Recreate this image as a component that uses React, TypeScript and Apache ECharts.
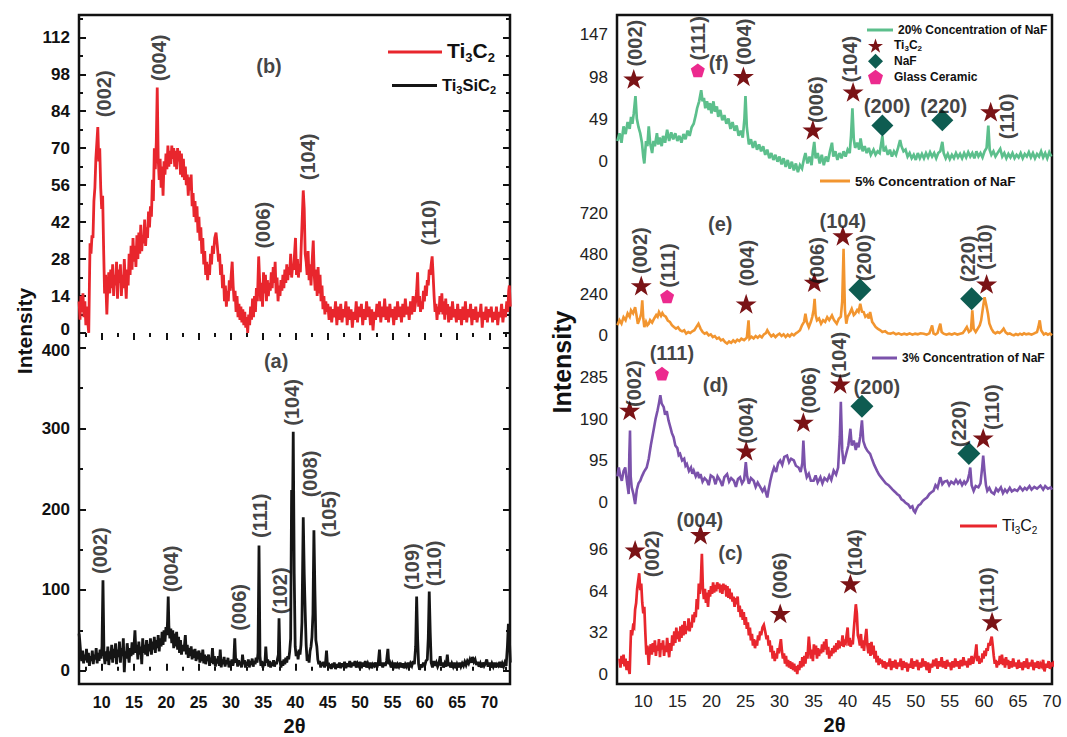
import React, { useEffect, useRef } from 'react';
import * as echarts from 'echarts';

const FONT = '"Liberation Sans", Arial, Helvetica, sans-serif';
const RED = '#e8262d';
const BLACK = '#151515';
const GREEN = '#5cbf8c';
const ORANGE = '#f2952f';
const PURPLE = '#7b52ab';
const STAR_C = '#7a1316';
const DIAM_C = '#0e5c51';
const PENT_C = '#ec2a8e';
const STAR = 'path://M50,2 L61.8,36.2 L97.6,36.2 L68.6,57.6 L79.4,92 L50,71 L20.6,92 L31.4,57.6 L2.4,36.2 L38.2,36.2 Z';
const PENT = 'path://M50,4 L96,38 L78,94 L22,94 L4,38 Z';

// ---------- tick values ----------
const leftXLabels = [10, 15, 20, 25, 30, 35, 40, 45, 50, 55, 60, 65, 70];
const leftXMinor = [7.5, 12.5, 17.5, 22.5, 27.5, 32.5, 37.5, 42.5, 47.5, 52.5, 57.5, 62.5, 67.5, 72.5];
const bYLabels = [0, 14, 28, 42, 56, 70, 84, 98, 112];
const bYMinor = [7, 21, 35, 49, 63, 77, 91, 105, 119];
const aYLabels = [0, 100, 200, 300, 400];
const aYMinor = [50, 150, 250, 350];
const rightXLabels = [10, 15, 20, 25, 30, 35, 40, 45, 50, 55, 60, 65, 70];
const fYLabels = [0, 49, 98, 147];
const eYLabels = [0, 240, 480, 720];
const dYLabels = [0, 95, 190, 285];
const cYLabels = [0, 32, 64, 96];

// ---------- series data ----------
const ti3c2 = [
[6.5,12],[6.65,5],[6.8,14],[6.95,8],[7.1,15],[7.25,6],[7.4,12],[7.55,3],[7.7,10],[7.85,4],[8.0,0],[8.1,18],[8.2,34],[8.35,30],[8.5,37],[8.65,36],[8.8,50],[8.95,55],[9.1,66],[9.25,72],[9.4,78],[9.55,65],[9.7,70],[9.85,55],[10.0,47],[10.15,52],[10.3,32],[10.45,15],[10.6,22],[10.8,7],[10.95,18],[11.1,23],[11.25,15],[11.4,24],[11.55,17],[11.7,26],[11.85,14],[12.0,22],[12.15,18],[12.3,27],[12.45,13],[12.6,24],[12.75,19],[12.9,26],[13.05,14],[13.2,22],[13.35,17],[13.5,28],[13.65,20],[13.8,13],[13.95,24],[14.1,18],[14.25,30],[14.4,22],[14.55,33],[14.7,24],[14.85,36],[15.0,27],[15.15,33],[15.3,25],[15.45,37],[15.6,28],[15.75,38],[15.9,30],[16.05,41],[16.2,31],[16.35,37],[16.5,34],[16.65,43],[16.8,33],[16.95,40],[17.1,36],[17.25,46],[17.4,40],[17.55,48],[17.7,44],[17.85,58],[18.0,50],[18.15,70],[18.3,62],[18.45,72],[18.6,93],[18.75,66],[18.9,58],[19.05,66],[19.2,55],[19.35,63],[19.5,52],[19.65,65],[19.8,60],[19.95,68],[20.1,62],[20.25,71],[20.4,63],[20.55,69],[20.7,64],[20.85,71],[21.0,66],[21.15,70],[21.3,63],[21.45,69],[21.6,62],[21.75,70],[21.9,65],[22.05,69],[22.2,60],[22.35,68],[22.5,59],[22.65,66],[22.8,58],[22.95,63],[23.1,56],[23.25,60],[23.4,52],[23.55,59],[23.7,54],[23.85,60],[24.0,48],[24.15,53],[24.3,44],[24.45,50],[24.6,42],[24.75,48],[24.9,38],[25.05,44],[25.2,35],[25.35,40],[25.5,30],[25.65,36],[25.8,26],[25.95,31],[26.1,22],[26.25,27],[26.4,20],[26.55,26],[26.7,22],[26.85,30],[27.0,26],[27.15,33],[27.3,30],[27.5,36],[27.7,38],[27.9,33],[28.1,27],[28.25,30],[28.4,22],[28.55,26],[28.7,17],[28.85,22],[29.0,12],[29.15,18],[29.3,10],[29.45,16],[29.6,12],[29.75,20],[29.9,16],[30.05,22],[30.2,27],[30.35,18],[30.5,12],[30.65,16],[30.8,8],[30.95,14],[31.1,6],[31.25,11],[31.4,5],[31.55,10],[31.7,4],[31.85,9],[32.0,3],[32.15,8],[32.3,2],[32.45,6],[32.6,0],[32.75,7],[32.9,3],[33.05,10],[33.2,5],[33.35,13],[33.5,6],[33.65,14],[33.8,8],[33.95,17],[34.1,12],[34.3,29],[34.45,20],[34.6,12],[34.75,19],[34.9,10],[35.05,23],[35.2,15],[35.35,22],[35.5,12],[35.65,20],[35.8,14],[35.95,19],[36.1,16],[36.25,23],[36.4,17],[36.55,25],[36.7,19],[36.85,27],[37.0,15],[37.15,21],[37.3,12],[37.45,18],[37.6,14],[37.75,20],[37.9,16],[38.05,22],[38.2,17],[38.35,24],[38.5,19],[38.65,26],[38.8,20],[38.95,25],[39.1,22],[39.25,30],[39.4,21],[39.55,25],[39.7,24],[39.85,30],[40.0,36],[40.15,22],[40.3,28],[40.45,21],[40.6,26],[40.75,23],[40.9,34],[41.05,44],[41.2,54],[41.35,47],[41.5,30],[41.65,27],[41.8,22],[41.95,31],[42.1,20],[42.25,26],[42.4,18],[42.55,26],[42.75,35],[42.9,22],[43.05,16],[43.2,24],[43.35,14],[43.5,25],[43.65,15],[43.8,22],[43.95,12],[44.1,18],[44.25,9],[44.4,14],[44.55,7],[44.7,12],[44.85,8],
[45.0,11],[45.2,5],[45.4,10],[45.6,4],[45.8,9],[46.0,6],[46.2,12],[46.4,3],[46.6,10],[46.8,5],[47.0,11],[47.2,4],[47.4,9],[47.6,6],[47.8,12],[48.0,3],[48.2,10],[48.4,5],[48.6,9],[48.8,2],[49.0,8],[49.2,5],[49.4,12],[49.6,4],[49.8,10],[50.0,6],[50.2,11],[50.4,3],[50.6,9],[50.8,5],[51.0,12],[51.2,6],[51.4,10],[51.6,3],[51.8,9],[52.0,1],[52.2,8],[52.4,5],[52.6,11],[52.8,6],[53.0,12],[53.2,4],[53.4,10],[53.6,6],[53.8,13],[54.0,5],[54.2,10],[54.4,4],[54.6,11],[54.8,6],[55.0,9],[55.2,3],[55.4,10],[55.6,5],[55.8,12],[56.0,6],[56.2,10],[56.4,4],[56.6,11],[56.8,6],[57.0,13],[57.2,7],[57.4,10],[57.6,5],[57.8,12],[58.0,7],[58.2,14],[58.4,8],[58.6,12],[58.75,16],[58.9,23],[59.05,10],[59.2,14],[59.35,8],[59.5,12],[59.65,9],[59.8,16],[59.95,12],[60.1,18],[60.25,14],[60.4,20],[60.55,18],[60.7,24],[60.85,22],[61.0,26],[61.15,29],[61.3,22],[61.45,14],[61.6,8],[61.75,11],[61.9,5],[62.05,10],[62.2,7],[62.35,14],[62.5,8],[62.65,15],[62.8,7],[62.95,12],[63.1,5],[63.25,13],[63.4,7],[63.55,11],[63.7,4],[63.9,10],[64.1,5],[64.3,12],[64.5,6],[64.7,9],[64.9,4],[65.1,11],[65.3,5],[65.5,9],[65.7,3],[65.9,10],[66.1,5],[66.3,12],[66.5,4],[66.7,9],[66.9,6],[67.1,11],[67.3,3],[67.5,9],[67.7,5],[67.9,10],[68.1,4],[68.3,8],[68.5,6],[68.7,11],[68.9,2],[69.1,8],[69.3,5],[69.5,10],[69.7,4],[69.9,9],[70.1,6],[70.3,10],[70.5,4],[70.7,8],[70.9,5],[71.1,10],[71.3,3],[71.5,8],[71.7,6],[71.9,11],[72.1,4],[72.3,9],[72.5,6],[72.7,12],[72.85,8],[73.0,16],[73.1,18],[73.25,10]
];

const ti3sic2 = [
[6.5,46],[6.6,38],[6.75,22],[6.9,12],[7.05,25],[7.2,9],[7.35,20],[7.5,13],[7.65,27],[7.8,10],[7.95,22],[8.1,6],[8.25,18],[8.4,12],[8.55,25],[8.7,8],[8.85,20],[9.0,14],[9.15,28],[9.3,9],[9.45,22],[9.6,12],[9.75,26],[9.9,15],[10.05,30],[10.2,112],[10.35,22],[10.5,8],[10.65,24],[10.8,12],[10.95,30],[11.1,7],[11.25,24],[11.4,14],[11.55,32],[11.7,10],[11.85,27],[12.0,16],[12.15,34],[12.3,8],[12.45,26],[12.6,17],[12.75,36],[12.9,10],[13.05,28],[13.2,18],[13.35,40],[13.5,-2],[13.65,24],[13.8,15],[13.95,34],[14.1,20],[14.25,10],[14.4,28],[14.55,18],[14.7,35],[14.85,20],[15.0,30],[15.15,50],[15.3,22],[15.45,32],[15.6,14],[15.75,36],[15.9,20],[16.05,30],[16.2,8],[16.35,40],[16.5,22],[16.65,32],[16.8,20],[16.95,38],[17.1,18],[17.25,33],[17.4,24],[17.55,40],[17.7,20],[17.85,36],[18.0,26],[18.15,42],[18.3,22],[18.45,38],[18.6,28],[18.75,44],[18.9,24],[19.05,40],[19.2,30],[19.35,48],[19.5,32],[19.65,50],[19.8,36],[19.95,54],[20.1,44],[20.2,62],[20.3,92],[20.4,56],[20.55,40],[20.7,52],[20.85,34],[21.0,50],[21.15,28],[21.3,46],[21.45,30],[21.6,48],[21.75,26],[21.9,42],[22.05,22],[22.2,38],[22.35,20],[22.5,32],[22.65,24],[22.8,30],[22.95,44],[23.1,20],[23.25,32],[23.4,16],[23.55,28],[23.7,18],[23.85,30],[24.0,14],[24.15,26],[24.3,16],[24.45,27],[24.6,12],[24.75,24],[24.9,14],[25.05,25],[25.2,10],[25.35,22],[25.5,12],[25.65,26],[25.8,9],[25.95,20],[26.1,8],[26.25,18],[26.4,12],[26.55,20],[26.7,6],[26.85,16],[27.0,10],[27.15,28],[27.3,8],[27.45,18],[27.6,5],[27.75,15],[27.9,9],[28.05,18],[28.2,6],[28.35,26],[28.5,4],[28.65,14],[28.8,8],[28.95,17],[29.1,5],[29.25,13],[29.4,8],[29.55,16],[29.7,4],[29.85,12],[30.0,7],[30.15,14],[30.3,6],[30.45,12],[30.6,40],[30.75,10],[30.9,15],[31.05,5],[31.2,13],[31.35,7],[31.5,11],[31.65,4],[31.8,20],[31.95,8],[32.1,13],[32.25,4],[32.4,11],[32.55,6],[32.7,14],[32.85,4],[33.0,12],[33.15,7],[33.3,15],[33.45,5],[33.6,12],[33.75,8],[33.9,16],[34.05,10],[34.2,22],[34.35,155],[34.5,18],[34.65,6],[34.8,12],[34.95,4],[35.1,10],[35.25,6],[35.4,30],[35.55,10],[35.7,14],[35.85,5],[36.0,12],[36.15,4],[36.3,10],[36.45,6],[36.6,13],[36.75,5],[36.9,11],[37.05,8],[37.2,14],[37.35,20],[37.45,65],[37.6,12],[37.75,4],[37.9,12],[38.05,6],[38.2,14],[38.35,8],[38.5,16],[38.65,10],[38.8,18],[38.95,14],[39.1,24],[39.25,40],[39.4,224],[39.5,150],[39.65,296],[39.8,120],[39.95,30],[40.1,18],[40.25,24],[40.4,14],[40.55,26],[40.7,20],[40.85,32],[41.0,60],[41.2,190],[41.35,120],[41.5,73],[41.65,32],[41.8,12],[41.95,20],[42.1,10],[42.25,24],[42.4,30],[42.55,42],[42.7,70],[42.85,174],[43.0,100],[43.15,38],[43.3,30],[43.45,14],[43.6,8],[43.75,12],[43.9,4],[44.05,10],[44.2,6],[44.35,11],[44.5,4],[44.65,9],[44.8,25],[44.95,6],[45.1,10],[45.25,3],[45.4,8],[45.55,2],[45.7,9],[45.85,4],[46.0,10],[46.2,2],[46.4,8],[46.6,4],[46.8,10],[47.0,3],[47.2,9],[47.4,5],[47.6,11],[47.8,3],[48.0,9],[48.2,5],[48.4,12],[48.6,4],[48.8,10],[49.0,6],[49.2,12],[49.4,4],[49.6,9],[49.8,6],[50.0,11],[50.2,3],[50.4,10],[50.6,5],[50.8,12],[51.0,4],[51.2,9],[51.4,5],[51.6,10],[51.8,3],[52.0,8],[52.2,6],[52.4,10],[52.6,4],[52.8,9],[53.0,26],[53.15,6],[53.3,10],[53.5,4],[53.7,10],[53.9,6],[54.1,12],[54.3,27],[54.45,8],[54.6,10],[54.8,4],[55.0,9],[55.2,5],[55.4,10],[55.6,3],[55.8,8],[56.0,5],[56.2,10],[56.4,4],[56.6,9],[56.8,3],[57.0,8],[57.2,5],[57.4,10],[57.6,4],[57.8,9],[58.0,6],[58.2,12],[58.4,8],[58.6,30],[58.75,92],[58.9,40],[59.05,8],[59.2,1],[59.4,8],[59.6,4],[59.8,10],[60.0,6],[60.2,12],[60.4,14],[60.55,40],[60.7,98],[60.85,48],[61.0,10],[61.2,4],[61.4,12],[61.6,6],[61.8,10],[62.0,5],[62.2,9],[62.4,18],[62.55,6],[62.7,10],[62.9,4],[63.1,9],[63.3,5],[63.5,20],[63.65,6],[63.8,10],[64.0,4],[64.2,9],[64.4,5],[64.6,10],[64.8,3],[65.0,8],[65.2,4],[65.4,10],[65.6,5],[65.8,9],[66.0,6],[66.2,11],[66.4,7],[66.6,12],[66.8,9],[67.0,14],[67.2,10],[67.4,17],[67.6,11],[67.8,14],[68.0,7],[68.2,11],[68.4,5],[68.6,9],[68.8,4],[69.0,10],[69.2,6],[69.4,9],[69.6,14],[69.8,5],[70.0,10],[70.2,4],[70.4,9],[70.6,5],[70.8,10],[71.0,4],[71.2,8],[71.4,6],[71.6,11],[71.8,4],[72.0,9],[72.2,5],[72.4,10],[72.6,6],[72.8,30],[72.95,58],[73.1,40],[73.25,10]
];

const naf20 = [
[6.2,24],[6.5,33],[6.8,22],[7.1,41],[7.4,32],[7.7,46],[8.0,38],[8.2,52],[8.4,44],[8.6,56],[8.85,76],[9.05,50],[9.3,40],[9.55,33],[9.8,22],[10.0,6],[10.15,-2],[10.4,24],[10.6,18],[10.8,41],[11.0,22],[11.3,10],[11.5,24],[11.7,18],[12.0,33],[12.2,20],[12.4,28],[12.7,18],[12.9,30],[13.2,22],[13.5,37],[13.8,24],[14.1,34],[14.4,26],[14.7,33],[15.0,24],[15.3,30],[15.6,22],[15.9,32],[16.2,26],[16.5,36],[16.8,30],[17.1,40],[17.4,44],[17.7,54],[17.9,62],[18.2,70],[18.5,83],[18.7,70],[18.9,74],[19.1,62],[19.35,70],[19.6,60],[19.8,68],[20.0,56],[20.3,70],[20.5,58],[20.8,64],[21.0,52],[21.3,60],[21.6,48],[21.9,54],[22.2,44],[22.5,50],[22.8,38],[23.1,46],[23.4,36],[23.7,42],[24.0,30],[24.3,36],[24.6,28],[24.85,50],[25.0,76],[25.2,40],[25.5,20],[25.8,26],[26.1,16],[26.4,24],[26.7,14],[27.0,20],[27.3,12],[27.6,18],[27.9,8],[28.2,14],[28.5,4],[28.8,10],[29.1,2],[29.4,8],[29.7,0],[30.0,6],[30.3,-3],[30.6,4],[30.9,-6],[31.2,2],[31.5,-8],[31.8,0],[32.1,-10],[32.4,-2],[32.7,-12],[33.0,-4],[33.3,-8],[33.6,4],[33.8,10],[34.1,-2],[34.4,6],[34.7,-4],[34.9,12],[35.1,23],[35.3,4],[35.6,10],[35.9,-2],[36.2,8],[36.5,-4],[36.8,6],[37.1,0],[37.4,12],[37.7,22],[37.9,6],[38.2,12],[38.5,2],[38.8,10],[39.1,4],[39.4,12],[39.7,6],[40.0,14],[40.3,10],[40.5,30],[40.7,62],[40.9,26],[41.1,16],[41.4,22],[41.7,14],[41.9,27],[42.2,12],[42.5,18],[42.8,10],[43.1,16],[43.4,8],[43.8,14],[44.1,8],[44.4,12],[44.7,10],[44.95,22],[45.1,30],[45.3,12],[45.6,16],[45.9,8],[46.2,14],[46.5,6],[46.8,12],[47.1,8],[47.4,16],[47.7,25],[47.9,18],[48.2,12],[48.5,14],[48.8,6],[49.1,10],[49.4,4],[49.7,8],[50.0,2],[50.3,10],[50.6,4],[50.9,9],[51.2,4],[51.5,10],[51.8,5],[52.1,11],[52.4,6],[52.7,10],[53.0,4],[53.3,10],[53.6,12],[53.9,23],[54.1,10],[54.4,4],[54.7,9],[55.0,3],[55.3,8],[55.6,4],[55.9,10],[56.2,5],[56.5,9],[56.8,4],[57.1,10],[57.4,5],[57.7,11],[58.0,6],[58.3,10],[58.6,4],[58.9,12],[59.2,6],[59.5,10],[59.8,5],[60.1,12],[60.4,16],[60.65,42],[60.85,14],[61.1,8],[61.4,12],[61.7,6],[62.0,10],[62.4,15],[62.7,6],[63.0,10],[63.3,4],[63.6,9],[63.9,5],[64.2,10],[64.5,4],[64.8,8],[65.1,5],[65.4,10],[65.7,4],[66.0,9],[66.3,6],[66.6,11],[66.9,5],[67.2,10],[67.5,4],[67.8,9],[68.1,6],[68.4,12],[68.7,5],[69.0,10],[69.3,4],[69.6,11],[69.9,6]
];

const naf5 = [
[6.2,60],[6.5,90],[6.8,70],[7.1,108],[7.4,90],[7.7,130],[8.0,110],[8.2,148],[8.5,130],[8.8,167],[9.0,120],[9.2,69],[9.5,100],[9.7,130],[9.85,207],[10.0,100],[10.15,49],[10.4,80],[10.6,60],[10.8,69],[11.0,90],[11.3,75],[11.6,100],[11.9,120],[12.1,110],[12.3,138],[12.6,115],[12.8,132],[13.0,118],[13.3,110],[13.6,88],[13.9,80],[14.2,60],[14.5,49],[14.8,40],[15.1,48],[15.4,30],[15.7,24],[16.0,30],[16.3,10],[16.6,20],[16.9,14],[17.2,24],[17.5,30],[17.8,50],[18.1,69],[18.4,40],[18.7,20],[19.0,10],[19.3,16],[19.6,0],[19.9,6],[20.2,-10],[20.5,-4],[20.8,-20],[21.1,-14],[21.4,-30],[21.7,-24],[22.0,-40],[22.3,-49],[22.6,-36],[22.9,-44],[23.2,-30],[23.5,-40],[23.8,-26],[24.1,-34],[24.4,-20],[24.8,-28],[25.2,-14],[25.45,89],[25.6,-20],[25.9,-8],[26.2,-18],[26.5,-4],[26.8,-14],[27.1,-2],[27.4,-12],[27.7,6],[28.0,14],[28.2,30],[28.5,10],[28.8,-6],[29.1,4],[29.4,-10],[29.7,2],[30.0,10],[30.3,-4],[30.6,6],[30.9,-10],[31.2,4],[31.5,-6],[31.8,8],[32.1,0],[32.4,12],[32.7,20],[33.0,30],[33.3,60],[33.6,80],[33.8,128],[34.0,80],[34.3,49],[34.6,80],[34.8,108],[35.0,150],[35.15,216],[35.3,120],[35.5,89],[35.8,100],[36.1,69],[36.4,90],[36.7,80],[37.0,108],[37.3,90],[37.7,118],[38.0,90],[38.4,69],[38.7,98],[39.0,110],[39.2,200],[39.4,512],[39.6,150],[39.8,69],[40.0,110],[40.3,130],[40.6,157],[40.9,120],[41.1,128],[41.4,150],[41.6,140],[41.85,187],[42.1,140],[42.35,138],[42.6,110],[42.9,120],[43.1,100],[43.3,138],[43.6,80],[43.8,69],[44.1,50],[44.4,40],[44.8,30],[45.1,20],[45.5,25],[45.9,12],[46.3,10],[46.7,16],[47.1,6],[47.5,12],[47.9,4],[48.3,10],[48.7,5],[49.1,12],[49.5,4],[49.9,10],[50.3,6],[50.7,12],[51.2,10],[51.6,4],[52.0,12],[52.4,59],[52.6,12],[52.9,5],[53.2,14],[53.6,69],[53.8,20],[54.1,10],[54.5,4],[54.9,10],[55.3,5],[55.7,12],[56.1,5],[56.5,10],[56.9,14],[57.2,30],[57.5,49],[57.8,20],[58.1,30],[58.3,148],[58.5,40],[58.8,20],[59.1,40],[59.4,60],[59.6,89],[59.85,160],[60.1,226],[60.35,180],[60.6,128],[60.8,70],[61.1,40],[61.4,20],[61.7,12],[62.0,20],[62.3,14],[62.6,24],[62.9,40],[63.2,18],[63.5,8],[63.8,12],[64.1,4],[64.4,0],[64.7,8],[65.0,2],[65.3,10],[65.6,4],[65.9,12],[66.2,6],[66.6,10],[67.0,4],[67.4,12],[67.8,20],[68.0,50],[68.2,89],[68.4,30],[68.8,5],[69.1,12],[69.4,4],[69.7,10],[70.0,0]
];

const naf3 = [
[6.2,60],[6.4,80],[6.6,62],[6.85,50],[7.1,72],[7.35,80],[7.6,48],[7.85,20],[7.95,110],[8.05,164],[8.15,60],[8.3,35],[8.55,20],[8.8,-3],[9.05,30],[9.3,44],[9.56,50],[9.8,60],[10.1,70],[10.5,80],[10.8,100],[11.1,130],[11.5,164],[11.8,190],[12.1,210],[12.3,226],[12.5,244],[12.7,225],[13.0,217],[13.2,200],[13.45,208],[13.7,187],[14.0,170],[14.2,158],[14.45,149],[14.7,130],[15.0,124],[15.2,108],[15.4,111],[15.7,96],[16.0,100],[16.2,84],[16.4,88],[16.7,72],[17.0,80],[17.2,66],[17.4,73],[17.7,60],[18.0,70],[18.2,56],[18.4,65],[18.7,48],[19.0,56],[19.35,50],[19.6,40],[19.9,62],[20.3,58],[20.6,42],[20.9,60],[21.3,50],[21.6,38],[21.9,58],[22.3,65],[22.6,48],[22.9,56],[23.3,50],[23.6,36],[23.9,54],[24.2,58],[24.5,44],[24.8,52],[25.05,92],[25.25,60],[25.5,43],[25.8,56],[26.2,50],[26.5,36],[26.8,46],[27.2,35],[27.5,26],[27.8,34],[28.2,12],[28.4,30],[28.65,50],[28.9,66],[29.2,80],[29.5,70],[29.8,90],[30.1,96],[30.4,86],[30.7,104],[31.1,107],[31.4,92],[31.7,100],[32.1,96],[32.4,84],[32.8,80],[33.1,70],[33.35,90],[33.5,141],[33.7,80],[34.0,58],[34.3,66],[34.6,50],[35.0,50],[35.3,62],[35.6,46],[36.0,58],[36.3,44],[36.6,56],[37.0,50],[37.3,62],[37.6,52],[37.95,73],[38.3,64],[38.6,80],[38.85,150],[39.0,229],[39.2,120],[39.4,88],[39.6,100],[39.9,118],[40.1,130],[40.4,168],[40.6,130],[40.9,141],[41.2,120],[41.4,136],[41.6,126],[41.85,150],[42.1,187],[42.3,140],[42.6,126],[42.9,118],[43.3,111],[43.6,98],[43.9,86],[44.3,73],[44.6,64],[45.0,56],[45.3,50],[45.6,44],[46.0,40],[46.3,35],[46.6,30],[47.0,24],[47.25,20],[47.6,16],[47.9,8],[48.2,5],[48.5,0],[48.9,-4],[49.2,-11],[49.5,-8],[49.7,-18],[49.9,-22],[50.1,-14],[50.4,-6],[50.7,-3],[51.0,4],[51.3,8],[51.65,12],[52.0,20],[52.3,24],[52.6,27],[52.9,40],[53.2,34],[53.6,58],[53.9,42],[54.2,48],[54.6,50],[54.9,40],[55.2,48],[55.6,43],[55.9,52],[56.2,44],[56.5,50],[56.8,40],[57.1,48],[57.3,43],[57.6,50],[57.85,66],[58.0,80],[58.2,40],[58.5,27],[58.8,38],[59.2,35],[59.5,44],[59.75,80],[59.9,107],[60.1,70],[60.3,40],[60.5,27],[60.8,34],[61.1,24],[61.5,20],[61.8,32],[62.1,26],[62.5,35],[62.8,22],[63.1,30],[63.4,24],[63.8,34],[64.1,26],[64.5,30],[64.9,27],[65.3,36],[65.7,28],[66.0,34],[66.3,30],[66.7,38],[67.0,30],[67.4,36],[67.8,32],[68.3,39],[68.7,30],[69.0,38],[69.4,32],[69.8,35],[70.0,30]
];

// ---------- phase markers [2θ, intensity] ----------
const starsF = [[8.6, 96], [24.7, 99], [34.9, 37], [40.8, 81], [61.0, 58]];
const pentF = [[18.0, 106]];
const diamF = [[45.1, 42], [53.9, 48]];
const starsE = [[9.7, 295], [25.1, 187], [35.1, 315], [39.3, 590], [60.4, 305]];
const pentE = [[13.5, 230]];
const diamE = [[41.8, 270], [58.2, 217]];
const starsD = [[8.0, 210], [25.1, 118], [33.5, 183], [38.9, 270], [59.9, 147]];
const pentD = [[12.74, 293]];
const diamD = [[42.1, 219], [57.8, 112]];
const starsC = [[8.8, 96], [18.4, 108], [30.1, 47], [40.4, 70], [61.2, 40.6]];

// ---------- peak annotations [2θ, intensity, text, vertical] ----------
const labelsB = [[10.35, 90.6, '(002)', 1], [18.85, 104.2, '(004)', 1], [35.9, 101, '(b)', 0], [34.95, 40.8, '(006)', 1], [42.0, 66.7, '(104)', 1], [60.7, 41.8, '(110)', 1]];
const labelsA = [[9.8, 148.7, '(002)', 1], [20.7, 126, '(004)', 1], [31.2, 78.5, '(006)', 1], [34.55, 192, '(111)', 1], [37.55, 99, '(102)', 1], [39.5, 332.5, '(104)', 1], [42.3, 243.7, '(008)', 1], [45.15, 194, '(105)', 1], [58.1, 129, '(109)', 1], [61.5, 133, '(110)', 1], [37.0, 384, '(a)', 0]];
const labelsF = [[8.73, 137.5, '(002)', 1], [18.0, 143, '(111)', 1], [21.06, 114.3, '(f)', 0], [24.8, 139, '(004)', 1], [35.4, 72, '(006)', 1], [40.3, 119, '(104)', 1], [45.8, 64.9, '(200)', 0], [54.1, 64.9, '(220)', 0], [63.4, 52.5, '(110)', 1]];
const labelsE = [[21.3, 659, '(e)', 0], [9.56, 502, '(002)', 1], [13.7, 413, '(111)', 1], [25.2, 427, '(004)', 1], [35.45, 443, '(006)', 1], [39.3, 679, '(104)', 0], [42.35, 459, '(200)', 1], [57.7, 453, '(220)', 1], [60.1, 522, '(110)', 1]];
const labelsD = [[8.6, 270.5, '(002)', 1], [14.2, 340, '(111)', 0], [20.6, 267, '(d)', 0], [25.1, 187, '(004)', 1], [34.3, 255, '(006)', 1], [38.7, 335, '(104)', 1], [44.3, 263, '(200)', 0], [56.3, 179, '(220)', 1], [61.2, 217, '(110)', 1]];
const labelsC = [[11.3, 93, '(002)', 1], [18.3, 119, '(004)', 0], [22.8, 93.5, '(c)', 0], [30.1, 76, '(006)', 1], [41.1, 94, '(104)', 1], [60.5, 65, '(110)', 1]];

// ---------- axis ranges ----------
const LX = [6.49, 73.2];
const RX = [6.14, 70];
const BY = [-1.14, 120.45];
const AY = [-16.5, 414.7];
const FY = [-21.2, 170.1];
const EY = [-69, 920];
const DY = [-30, 353.5];
const CY = [-7.7, 122.3];

function buildOption() {
  const tickLine = { color: '#111', width: 2 };
  const base = { type: 'value', splitLine: { show: false }, axisLine: { show: false } };
  const tickAx = (grid: number, pos: string, r: number[], vals: number[], len: number, extra: any = {}) => ({
    ...base, gridIndex: grid, position: pos, min: r[0], max: r[1],
    axisLabel: { show: false },
    axisTick: { show: true, inside: true, length: len, lineStyle: tickLine, customValues: vals },
    ...extra,
  });
  const hidden = (grid: number, r: number[]) => ({ ...base, gridIndex: grid, show: false, min: r[0], max: r[1] });
  const lblFont = { fontSize: 17, fontWeight: 'bold', color: '#111', fontFamily: FONT };
  const boldLbl = (vals: number[], size: number, extra: any = {}) => ({ show: true, customValues: vals, fontSize: size, fontWeight: 'bold', color: '#111', fontFamily: FONT, margin: 9, ...extra });
  const normLbl = (vals: number[]) => ({ show: true, customValues: vals, fontSize: 17, color: '#222', fontFamily: FONT, margin: 9 });
  const nameStyle = { fontSize: 20, fontWeight: 'bold', color: '#111', fontFamily: FONT };

  const xAxis = [
    tickAx(0, 'top', LX, leftXLabels, 7),
    tickAx(0, 'top', LX, leftXMinor, 4),
    tickAx(1, 'bottom', LX, leftXLabels, 7, { axisLabel: boldLbl(leftXLabels, 16, { margin: 10 }), name: '2θ', nameLocation: 'middle', nameGap: 32, nameTextStyle: nameStyle }),
    tickAx(1, 'bottom', LX, leftXMinor, 4),
    hidden(2, RX), hidden(3, RX), hidden(4, RX),
    { ...base, gridIndex: 5, position: 'bottom', min: RX[0], max: RX[1], axisTick: { show: false }, axisLabel: { ...normLbl(rightXLabels), margin: 9 }, name: '2θ', nameLocation: 'middle', nameGap: 31, nameTextStyle: nameStyle },
    hidden(6, [0, 1]), hidden(7, [0, 1]),
  ];
  const yAxis = [
    tickAx(0, 'left', BY, bYLabels, 7, { axisLabel: boldLbl(bYLabels, 17, {
      formatter: (v: number) => (v === 0 ? '{lo|0}' : String(v)),
      rich: { lo: { ...lblFont, padding: [0, 0, 6, 0] } },
    }) }),
    tickAx(0, 'left', BY, bYMinor, 4),
    tickAx(0, 'right', BY, bYLabels, 7),
    tickAx(0, 'right', BY, bYMinor, 4),
    tickAx(1, 'left', AY, aYLabels, 7, { axisLabel: boldLbl(aYLabels, 17, {
      formatter: (v: number) => (v === 400 ? '{hi|400}' : String(v)),
      rich: { hi: { ...lblFont, padding: [6, 0, 0, 0] } },
    }) }),
    tickAx(1, 'left', AY, aYMinor, 4),
    tickAx(1, 'right', AY, aYLabels, 7),
    tickAx(1, 'right', AY, aYMinor, 4),
    { ...base, gridIndex: 2, position: 'left', min: FY[0], max: FY[1], axisTick: { show: false }, axisLabel: normLbl(fYLabels) },
    { ...base, gridIndex: 3, position: 'left', min: EY[0], max: EY[1], axisTick: { show: false }, axisLabel: normLbl(eYLabels) },
    { ...base, gridIndex: 4, position: 'left', min: DY[0], max: DY[1], axisTick: { show: false }, axisLabel: normLbl(dYLabels) },
    { ...base, gridIndex: 5, position: 'left', min: CY[0], max: CY[1], axisTick: { show: false }, axisLabel: normLbl(cYLabels) },
    hidden(6, [0, 1]), hidden(7, [0, 1]),
  ];

  const g = (left: number, top: number, width: number, height: number, extra: any = {}) => ({ left, top, width, height, containLabel: false, outerBoundsMode: 'none', ...extra });
  const frame = { show: true, borderColor: '#111', borderWidth: 2.5, backgroundColor: 'transparent' };
  const grid = [
    g(79, 15, 431, 321), g(79, 336, 431, 348),
    g(617, 15, 435, 165), g(617, 180, 435, 167), g(617, 347, 435, 169), g(617, 516, 435, 168),
    g(79, 15, 431, 669, frame), g(617, 15, 435, 669, frame),
  ];

  const line = (name: string, data: any, xi: number, yi: number, color: string, width: number) => ({
    type: 'line', name, data, xAxisIndex: xi, yAxisIndex: yi, showSymbol: false, symbol: 'none',
    lineStyle: { color, width, join: 'miter', miterLimit: 3 }, itemStyle: { color }, z: 3, silent: true,
  });
  const marks = (name: string, data: any, xi: number, yi: number, symbol: string, size: number, color: string) => ({
    type: 'scatter', name, data, xAxisIndex: xi, yAxisIndex: yi, symbol, symbolSize: size, symbolKeepAspect: true,
    itemStyle: { color, opacity: 1 }, z: 5, silent: true, clip: false,
  });
  const notes = (items: any[], xi: number, yi: number) => ({
    type: 'scatter', data: items.map((d) => ({ value: [d[0], d[1]], name: d[2], label: { rotate: d[3] ? 90 : 0 } })),
    xAxisIndex: xi, yAxisIndex: yi, symbolSize: 1, itemStyle: { color: 'rgba(0,0,0,0)' }, z: 6, silent: true, clip: false,
    label: { show: true, position: 'inside', formatter: '{b}', color: '#111', fontSize: 20, fontWeight: 'bold', fontFamily: FONT },
  });

  const series = [
    line('Ti3C2', ti3c2, 0, 0, RED, 2.8),
    line('Ti3SiC2', ti3sic2, 2, 4, BLACK, 2.8),
    line('20% Concentration of NaF', naf20, 4, 8, GREEN, 2.7),
    line('5% Concentration of NaF', naf5, 5, 9, ORANGE, 2.6),
    line('3% Concentration of NaF', naf3, 6, 10, PURPLE, 2.6),
    line('Ti3C2', ti3c2, 7, 11, RED, 2.7),
    marks('Ti3C2 star', starsF, 4, 8, STAR, 21, STAR_C),
    marks('Glass Ceramic', pentF, 4, 8, PENT, 14, PENT_C),
    marks('NaF', diamF, 4, 8, 'diamond', 22, DIAM_C),
    marks('Ti3C2 star', starsE, 5, 9, STAR, 21, STAR_C),
    marks('Glass Ceramic', pentE, 5, 9, PENT, 14, PENT_C),
    marks('NaF', diamE, 5, 9, 'diamond', 23, DIAM_C),
    marks('Ti3C2 star', starsD, 6, 10, STAR, 21, STAR_C),
    marks('Glass Ceramic', pentD, 6, 10, PENT, 14, PENT_C),
    marks('NaF', diamD, 6, 10, 'diamond', 23, DIAM_C),
    marks('Ti3C2 star', starsC, 7, 11, STAR, 21, STAR_C),
    notes(labelsB, 0, 0), notes(labelsA, 2, 4), notes(labelsF, 4, 8),
    notes(labelsE, 5, 9), notes(labelsD, 6, 10), notes(labelsC, 7, 11),
  ];

  const rich = (big: number, small: number, weight: string, drop: number) => ({
    n: { fontSize: big, fontWeight: weight, fontFamily: FONT, color: '#111', padding: [0, 0, drop, 0] },
    s: { fontSize: small, fontWeight: weight, fontFamily: FONT, color: '#111', verticalAlign: 'bottom' },
  });
  const lg = (extra: any) => ({ selectedMode: false, padding: 0, itemGap: 1, ...extra });
  const legend = [
    lg({ left: 388, top: 40, icon: 'rect', itemWidth: 54, itemHeight: 3, data: ['Ti3C2'], formatter: () => '{n|Ti}{s|3}{n|C}{s|2}', textStyle: { rich: rich(21, 13, 'bold', 3) } }),
    lg({ left: 392, top: 76, icon: 'rect', itemWidth: 45, itemHeight: 3, data: ['Ti3SiC2'], formatter: () => '{n|Ti}{s|3}{n|SiC}{s|2}', textStyle: { rich: rich(16.5, 11, 'bold', 2) } }),
    lg({ left: 867, top: 24, icon: 'rect', itemWidth: 26, itemHeight: 3, data: ['20% Concentration of NaF'], textStyle: { fontSize: 12, fontWeight: 'bold', color: '#111', fontFamily: FONT } }),
    lg({ left: 868, top: 38.5, orient: 'vertical', itemWidth: 15, itemHeight: 15, data: [{ name: 'Ti3C2 star', icon: STAR }, { name: 'NaF', icon: 'diamond' }, { name: 'Glass Ceramic', icon: PENT }],
      formatter: (n: string) => (n === 'Ti3C2 star' ? '{n|Ti}{s|3}{n|C}{s|2}' : n),
      textStyle: { fontSize: 12, fontWeight: 'bold', color: '#111', fontFamily: FONT, padding: [0, 0, 0, 6], rich: rich(12, 8, 'bold', 2) } }),
    lg({ left: 820, top: 174, icon: 'rect', itemWidth: 30, itemHeight: 3, data: ['5% Concentration of NaF'], textStyle: { fontSize: 13.5, fontWeight: 'bold', color: '#111', fontFamily: FONT } }),
    lg({ left: 872, top: 352, icon: 'rect', itemWidth: 25, itemHeight: 3, data: ['3% Concentration of NaF'], textStyle: { fontSize: 12, fontWeight: 'bold', color: '#111', fontFamily: FONT } }),
    lg({ left: 960, top: 517, icon: 'rect', itemWidth: 37, itemHeight: 3, data: ['Ti3C2'], formatter: () => '{n|Ti}{s|3}{n|C}{s|2}', textStyle: { rich: rich(16, 10, 'normal', 2) } }),
  ];

  const vText = (x: number, y: number, size: number) => ({
    type: 'text', x, y, rotation: Math.PI / 2, silent: true,
    style: { text: 'Intensity', fontSize: size, fontWeight: 'bold', fontFamily: FONT, fill: '#111', align: 'center', verticalAlign: 'middle', textAlign: 'center', textVerticalAlign: 'middle' },
  });

  return {
    animation: false,
    backgroundColor: '#ffffff',
    grid, xAxis, yAxis, series, legend,
    graphic: [vText(24, 331, 21), vText(562, 362, 25)],
  };
}

export default function App() {
  const ref = useRef<HTMLDivElement>(null);
  useEffect(() => {
    if (!ref.current) return;
    const chart = echarts.init(ref.current, null, { renderer: 'svg' });
    chart.setOption(buildOption() as any);
    return () => chart.dispose();
  }, []);
  return <div ref={ref} style={{ position: 'absolute', left: 0, top: 0, width: 1067, height: 737 }} />;
}
